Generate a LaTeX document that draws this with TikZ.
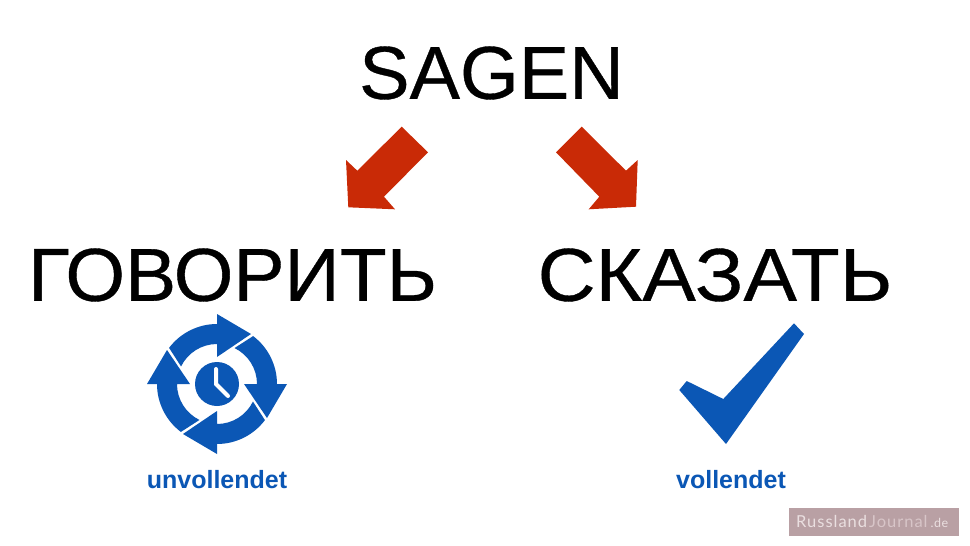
\documentclass[tikz,border=0pt]{standalone}
\usepackage{fontspec}
\setmainfont{Liberation Sans}
\newfontfamily\markfont{Lato}
\newfontfamily\wordfont[FakeBold=0.5]{Liberation Sans}
\definecolor{arrowred}{HTML}{C92A06}
\definecolor{iconblue}{HTML}{0B57B5}
\definecolor{markbg}{HTML}{B9A0A4}
\begin{document}
\begin{tikzpicture}[x=1pt,y=1pt,
  bigword/.style={inner sep=0pt,anchor=base,text=black,font=\fontsize{75}{75}\selectfont\wordfont},
  caption/.style={inner sep=0pt,anchor=base,text=iconblue,font=\fontsize{25}{25}\selectfont\bfseries},
  redarrow/.style={fill=arrowred,draw=none},
  blueicon/.style={fill=iconblue,draw=none}]
\useasboundingbox (0,0) rectangle (970,-546);
\fill[white] (0,0) rectangle (970,-546);
\node[bigword,xscale=1.008] (sagen) at (491.5,-98.8) {SAGEN};
\node[bigword,xscale=1.023] (gov) at (232.5,-300.8) {ГОВОРИТЬ};
\node[bigword,xscale=1.07] (ska) at (715,-300.8) {СКАЗАТЬ};
\fill[redarrow] (401.7,-126.7) -- (428,-152.3) -- (384,-196.7) -- (395,-209.3) -- (348.3,-207.3) -- (346,-160) -- (357.3,-170.7) -- cycle;
\fill[redarrow] (581.7,-126.7) -- (556,-152.3) -- (599.3,-196.7) -- (588.7,-209.3) -- (636,-206.7) -- (637.7,-160) -- (626,-170.7) -- cycle;
\begin{scope}[shift={(217,-384)}]
  \fill[blueicon] (0,0) circle[radius=22];
  \draw[white,line width=4pt,line cap=round] (-1,15) -- (-1,0) -- (11,-12);
  \foreach \r in {0,-90,-180,-270}{
    \fill[blueicon,rotate=\r] (143:60) arc[start angle=143,end angle=90,radius=60] -- (0,70) -- (34,50) -- (0,27) -- (0,40) arc[start angle=90,end angle=154,radius=40] -- cycle;
  }
\end{scope}
\fill[blueicon] (794,-323.3) -- (804,-334) -- (726,-444) -- (679.3,-390) -- (686.7,-381) -- (723.3,-399) -- cycle;
\node[caption] (unv) at (217,-488) {unvollendet};
\node[caption] (vol) at (731,-488) {vollendet};
\fill[markbg] (789.3,-508.3) rectangle (959.3,-535.7);
\node[inner sep=0pt,anchor=base west,font=\fontsize{16.5}{16.5}\selectfont\markfont] (mark) at (796,-527.7)
  {\textcolor[HTML]{EADFE0}{\addfontfeature{LetterSpace=6}Russland}\hspace{2pt}\textcolor[HTML]{D8C5C8}{\addfontfeature{LetterSpace=6}Journal}\hspace{3pt}\textcolor[HTML]{EADFE0}{\fontsize{12.5}{12.5}\selectfont\addfontfeature{LetterSpace=4}.de}};
\end{tikzpicture}
\end{document}
